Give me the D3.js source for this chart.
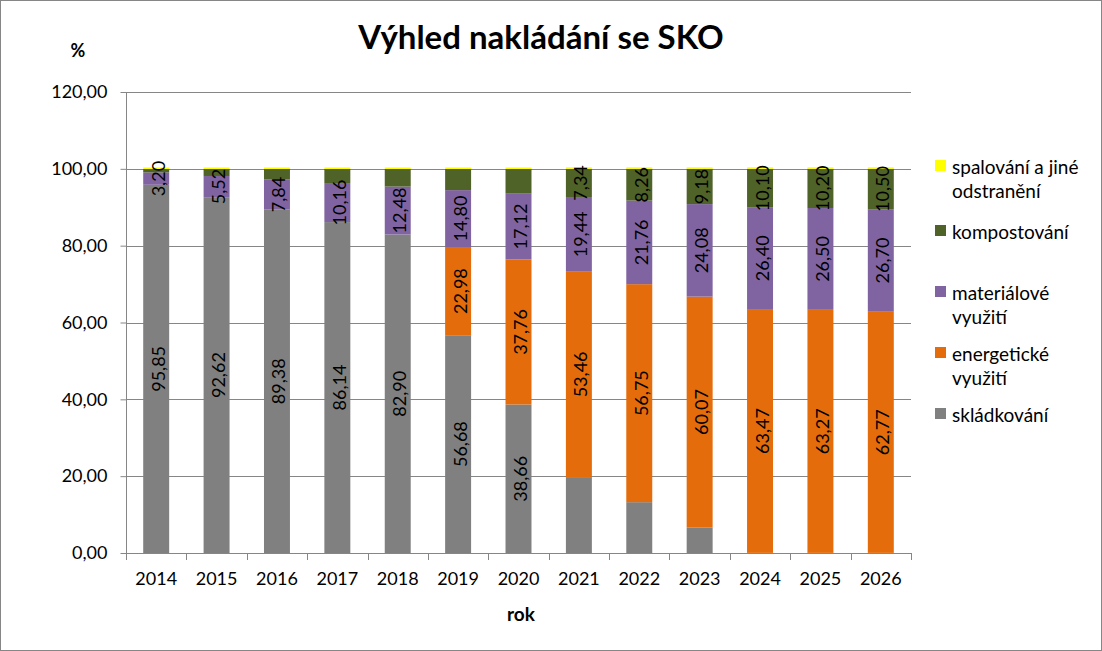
<!DOCTYPE html>
<html><head><meta charset="utf-8">
<script src="https://cdn.jsdelivr.net/npm/d3@7"></script>
<style>
body{margin:0;background:#fff;}
svg{display:block;font-family:Lato, "Open Sans", sans-serif;}
</style></head>
<body>
<svg id="c" width="1102" height="651"></svg>
<script>
const years = ["2014","2015","2016","2017","2018","2019","2020","2021","2022","2023","2024","2025","2026"];
const skladkovani = [95.85,92.62,89.38,86.14,82.90,56.68,38.66,19.76,13.23,6.67,0.03,0.03,0.03];
const energeticke = [0,0,0,0,0,22.98,37.76,53.46,56.75,60.07,63.47,63.27,62.77];
const materialove = [3.20,5.52,7.84,10.16,12.48,14.80,17.12,19.44,21.76,24.08,26.40,26.50,26.70];
const kompostovani = [0.90,1.82,2.74,3.66,4.58,5.50,6.42,7.34,8.26,9.18,10.10,10.20,10.50];
const spalovani = [0.4,0.4,0.4,0.4,0.4,0.4,0.4,0.4,0.4,0.4,0.4,0.4,0.4];
const yTicks = [0,20,40,60,80,100,120];
// label visibility per series
const showSklad = [1,1,1,1,1,1,1,0,0,0,0,0,0];
const showEnerg = [0,0,0,0,0,1,1,1,1,1,1,1,1];
const showMat = [1,1,1,1,1,1,1,1,1,1,1,1,1];
const showKomp = [0,0,0,0,0,0,0,1,1,1,1,1,1];
const spShow = [0,0,0,0,0,0,0,0,0,0,0,0,0];

const series = [
  {name:"skládkování", vals:skladkovani, color:"#808080", show:showSklad},
  {name:"energetické využití", vals:energeticke, color:"#E46C0A", show:showEnerg},
  {name:"materiálové využití", vals:materialove, color:"#8064A2", show:showMat},
  {name:"kompostování", vals:kompostovani, color:"#4F6228", show:showKomp},
  {name:"spalování a jiné odstranění", vals:spalovani, color:"#FFFF00", show:spShow}
];

const fmt = v => v.toFixed(2).replace(".", ",");
const svg = d3.select("#c");
const L=126, R=911, T=92, B=553;
const x = d3.scaleBand().domain(years).range([L,R]).paddingInner(0.57).paddingOuter(0.285);
const y = d3.scaleLinear().domain([0,120]).range([B,T]);

svg.append("rect").attr("x",0.5).attr("y",0.5).attr("width",1101).attr("height",650).attr("fill","#fff").attr("stroke","#868686");

// gridlines
svg.append("g").selectAll("line").data(yTicks.filter(d=>d>0)).join("line")
  .attr("x1",L).attr("x2",R).attr("y1",d=>Math.round(y(d))+0.5).attr("y2",d=>Math.round(y(d))+0.5)
  .attr("stroke","#868686");

// bars
const stack = years.map(()=>0);
series.forEach(s=>{
  const g = svg.append("g");
  years.forEach((yr,i)=>{
    const v = s.vals[i];
    const y0 = stack[i], y1 = stack[i]+v;
    stack[i] = y1;
    if (v<=0) return;
    g.append("rect").attr("x",x(yr)).attr("width",x.bandwidth())
      .attr("y",y(y1)).attr("height",y(y0)-y(y1)).attr("fill",s.color);
    s["_mid"+i] = (y0+y1)/2;
  });
});
// labels
series.forEach(s=>{
  years.forEach((yr,i)=>{
    if(!s.show[i]) return;
    const cx = x(yr)+x.bandwidth()/2+1.5, cy = y(s["_mid"+i]);
    svg.append("text").attr("transform",`translate(${cx},${cy}) rotate(-90)`)
      .attr("text-anchor","middle").attr("dominant-baseline","central")
      .attr("font-size",18).attr("fill","#000").text(fmt(s.vals[i]));
  });
});

// axes
const yAxis = svg.append("g").attr("transform",`translate(${L+0.5},0)`)
  .call(d3.axisLeft(y).tickValues(yTicks).tickFormat(fmt).tickSize(6).tickPadding(13));
yAxis.select(".domain").attr("stroke","#868686").attr("d",`M0,${T}V${B}`);
yAxis.selectAll(".tick line").attr("stroke","#868686");
yAxis.selectAll("text").attr("font-size",18).attr("fill","#000").attr("font-family","Lato");

const xAxis = svg.append("g").attr("transform",`translate(0,${B+0.5})`)
  .call(d3.axisBottom(x).tickSize(0).tickPadding(19));
xAxis.select(".domain").attr("stroke","#868686").attr("d",`M${L},0H${R}`);
xAxis.selectAll("text").attr("font-size",18).attr("fill","#000").attr("font-family","Lato");
// boundary ticks
svg.append("g").selectAll("line").data(d3.range(years.length+1)).join("line")
  .attr("x1",d=>Math.round(L+d*(R-L)/years.length)+0.5).attr("x2",d=>Math.round(L+d*(R-L)/years.length)+0.5)
  .attr("y1",B).attr("y2",B+7).attr("stroke","#868686");

// titles
svg.append("text").attr("x",541).attr("y",49).attr("text-anchor","middle")
  .attr("font-size",33).attr("font-weight","bold").text("Výhled nakládání se SKO");
svg.append("text").attr("x",78).attr("y",57).attr("text-anchor","middle")
  .attr("font-size",18).attr("font-weight","bold").text("%");
svg.append("text").attr("x",521).attr("y",621).attr("text-anchor","middle")
  .attr("font-size",19).attr("font-weight","bold").text("rok");

// legend
const legend = [
  {c:"#FFFF00", lines:["spalování a jiné","odstranění"], y:166},
  {c:"#4F6228", lines:["kompostování"], y:231},
  {c:"#8064A2", lines:["materiálové","využití"], y:292},
  {c:"#E46C0A", lines:["energetické","využití"], y:353},
  {c:"#808080", lines:["skládkování"], y:414}
];
const lg = svg.append("g");
legend.forEach(d=>{
  lg.append("rect").attr("x",935).attr("y",d.y-6).attr("width",11).attr("height",11).attr("fill",d.c);
  d.lines.forEach((t,j)=>{
    lg.append("text").attr("x",952).attr("y",d.y+24*j).attr("dominant-baseline","central")
      .attr("font-size",19).text(t);
  });
});
</script>
</body></html>
